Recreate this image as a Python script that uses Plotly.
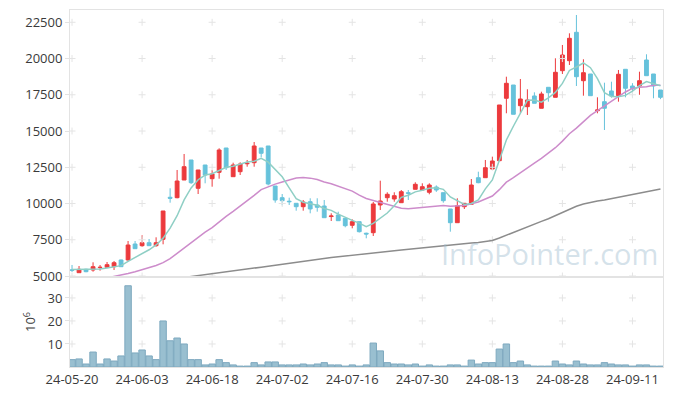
import plotly.graph_objects as go

dates = ["24-05-20","24-05-21","24-05-22","24-05-23","24-05-24","24-05-27","24-05-28","24-05-29","24-05-30","24-05-31",
         "24-06-03","24-06-04","24-06-05","24-06-07","24-06-10","24-06-11","24-06-12","24-06-13","24-06-14","24-06-17",
         "24-06-18","24-06-19","24-06-20","24-06-21","24-06-24","24-06-25","24-06-26","24-06-27","24-06-28","24-07-01",
         "24-07-02","24-07-03","24-07-04","24-07-05","24-07-08","24-07-09","24-07-10","24-07-11","24-07-12","24-07-15",
         "24-07-16","24-07-17","24-07-18","24-07-19","24-07-22","24-07-23","24-07-24","24-07-25","24-07-26","24-07-29",
         "24-07-30","24-07-31","24-08-01","24-08-02","24-08-05","24-08-06","24-08-07","24-08-08","24-08-09","24-08-12",
         "24-08-13","24-08-14","24-08-16","24-08-19","24-08-20","24-08-21","24-08-22","24-08-23","24-08-26","24-08-27",
         "24-08-28","24-08-29","24-08-30","24-09-02","24-09-03","24-09-04","24-09-05","24-09-06","24-09-09","24-09-10",
         "24-09-11","24-09-12","24-09-13","24-09-19","24-09-20"]

open_ = [5420,5228,5462,5414,5580,5600,5642,6104,6104,7207,
         7090,7297,7090,7531,10430,10401,11622,13002,11050,12657,
         11712,12153,13830,11850,12195,12740,12815,13830,13968,11208,
         10401,10160,10015,9780,10125,9898,9829,9100,9208,8980,
         8497,8746,7950,7987,9898,10401,10312,10056,10740,10980,
         10932,10774,11139,10746,9622,8677,9780,9946,11781,11781,
         12381,12953,17258,18175,16747,16679,17417,16568,18016,17326,
         19162,19852,21810,18472,18934,16400,17023,17762,17437,19258,
         18106,18106,19900,18934,17830]
high = [5760,5690,5500,5945,5759,5966,6035,6130,7414,7414,
        7807,7552,7669,9484,11050,12312,13416,13002,12312,12657,
        12312,13809,13830,12815,12843,13002,14243,13830,13968,11208,
        10656,10401,10015,10243,10360,10360,10243,9325,9435,8980,
        8911,8746,7987,10105,11574,10774,10774,10932,10932,11463,
        11394,11394,11250,10746,9622,10360,10015,11691,12195,13002,
        13232,16796,18748,18175,18589,17879,17670,17713,18016,20017,
        20935,21741,23004,19948,18934,17326,18334,18403,19210,19258,
        18300,19093,20293,18934,17830]
low = [5276,5228,5260,5297,5366,5600,5414,5642,6055,6883,
       7021,7090,7021,7186,10056,10360,11622,11350,10656,11394,
       11160,11712,12312,11850,11967,12540,12540,13188,11250,10056,
       9877,9900,9505,9505,9325,9435,9022,8794,8815,8359,
       8290,8000,7600,7759,9553,10125,10125,10056,10243,10980,
       10932,10636,10800,10056,8056,8677,9622,9946,11400,11781,
       12312,12953,16223,16154,16223,16106,16913,16568,17023,17326,
       18934,19555,18106,17437,17437,16223,15071,17300,17023,17326,
       17326,17500,18817,17258,17200]
close = [5400,5462,5297,5642,5600,5780,5917,5642,7138,6883,
         7297,7090,7297,9484,10360,11553,12540,11436,12312,11967,
         12036,13692,12471,12657,12726,12774,13968,13464,11347,10243,
         10194,10125,9780,10105,9625,9740,9022,9139,8815,8470,
         8746,8056,7897,9967,10174,10636,10539,10815,10705,11325,
         11160,11277,10932,10194,8677,9850,10015,11277,11436,12471,
         12933,16796,18292,16154,17210,17141,16913,17555,17644,19051,
         20245,21396,18748,19024,17437,16451,16568,17417,18914,17948,
         17923,18472,18817,18106,17326]
volume = [3.2,3.5,1.3,6.5,1.3,3.5,2.6,4.8,35.3,6.1,
          7.4,4.8,3.2,20.0,11.4,12.6,10.0,3.2,3.2,0.9,
          1.3,3.2,1.9,0.9,0.4,0.4,1.9,0.9,2.2,2.2,
          0.9,0.9,0.9,1.3,0.9,1.3,1.9,0.9,0.9,0.4,
          0.9,0.4,0.9,10.4,7.0,1.9,1.3,1.3,0.9,1.3,
          0.4,0.9,0.4,0.4,0.9,0.9,0.4,3.0,1.3,1.9,
          1.9,7.8,10.0,1.9,2.6,0.9,0.4,0.4,0.4,2.6,
          1.3,0.9,2.6,1.3,0.9,0.9,1.9,1.3,0.9,0.9,
          0.4,0.9,0.9,0.4,0.4]
ma5 = [5450,5460,5440,5470,5480,5556,5647,5716,6015,6272,
       6575,6810,7141,7610,8306,9157,10247,11075,11640,11962,
       12058,12289,12496,12565,12716,12864,12919,13118,12856,12359,
       11843,11075,10338,10089,9966,9875,9654,9526,9268,9037,
       8838,8645,8397,8627,8968,9346,9843,10426,10574,10804,
       10909,11056,11080,10978,10448,10186,9934,10003,10251,11010,
       11626,12983,14386,15329,16277,17119,17142,16995,17293,17661,
       18282,19178,19417,19693,19370,18611,17646,17379,17357,17460,
       17754,18135,18415,18253,18129]
ma20 = [None,None,None,None,None,4870,4960,5060,5170,5290,
        5420,5560,5720,5920,6200,6560,6930,7280,7650,8020,
        8337,8748,9107,9458,9814,10164,10566,10957,11168,11336,
        11481,11632,11756,11788,11751,11660,11484,11369,11195,11020,
        10855,10573,10345,10210,10083,9976,9804,9672,9640,9694,
        9742,9800,9857,9862,9814,9820,9869,9976,10107,10307,
        10517,10954,11474,11783,12135,12460,12779,13116,13463,13849,
        14303,14809,15200,15641,16079,16409,16737,17044,17418,17692,
        17941,18025,18051,18149,18155]
ma60 = [None]*16 + [4900,4960,5030,5090,
        5150,5210,5280,5340,5400,5470,5540,5610,5680,5750,
        5820,5890,5960,6030,6100,6160,6220,6270,6320,6380,
        6430,6480,6530,6590,6640,6690,6750,6800,6850,6910,
        6970,7020,7070,7110,7150,7190,7230,7270,7310,7360,
        7450,7620,7820,8000,8190,8380,8570,8770,8950,9160,
        9380,9620,9810,9970,10090,10170,10240,10340,10450,10550,
        10650,10730,10835,10925,11000]

price_ticks = [5000, 7500, 10000, 12500, 15000, 17500, 20000, 22500]
vol_ticks = [10, 20, 30]
tick_step = 10

x = list(range(len(dates)))
xtick_idx = x[::tick_step]
xtick_text = [dates[i] for i in xtick_idx]

RED = "#ec3a3d"
BLUE = "#66c2db"
GRID = "#e4e4e4"
AX = "#e3e3e3"
FONT = dict(family="Open Sans", size=13, color="#3a3a3a")

fig = go.Figure()

px_, py_ = [], []
for xi in xtick_idx:
    for yv in price_ticks:
        px_.append(xi); py_.append(yv)
fig.add_trace(go.Scatter(x=px_, y=py_, mode="markers", xaxis="x", yaxis="y",
                         marker=dict(symbol="cross-thin", size=5, line=dict(width=1, color=GRID)),
                         hoverinfo="skip"))
vx, vy = [], []
for xi in xtick_idx:
    for yv in vol_ticks:
        vx.append(xi); vy.append(yv)
fig.add_trace(go.Scatter(x=vx, y=vy, mode="markers", xaxis="x2", yaxis="y2",
                         marker=dict(symbol="cross-thin", size=5, line=dict(width=1, color=GRID)),
                         hoverinfo="skip"))

fig.add_trace(go.Scatter(x=x, y=ma60, mode="lines", line=dict(color="#8c8c8c", width=1.5),
                         xaxis="x", yaxis="y"))
fig.add_trace(go.Scatter(x=x, y=ma20, mode="lines", line=dict(color="#cd8ccb", width=1.5),
                         xaxis="x", yaxis="y"))
fig.add_trace(go.Scatter(x=x, y=ma5, mode="lines", line=dict(color="#8fcfc5", width=1.5),
                         xaxis="x", yaxis="y"))

fig.add_trace(go.Candlestick(x=x, open=open_, high=high, low=low, close=close,
                             increasing=dict(line=dict(color=RED, width=1), fillcolor=RED),
                             decreasing=dict(line=dict(color=BLUE, width=1), fillcolor=BLUE),
                             whiskerwidth=0, xaxis="x", yaxis="y"))

fig.add_trace(go.Bar(x=x, y=volume, xaxis="x2", yaxis="y2",
                     marker=dict(color="rgba(148,188,206,0.95)", line=dict(color="#7ea9bf", width=1))))

split = 0.2521
xr = [-0.29, 84.36]
fig.update_layout(
    width=673, height=396,
    margin=dict(l=70, r=10, t=10, b=29, autoexpand=False),
    paper_bgcolor="white", plot_bgcolor="white",
    showlegend=False, font=FONT,
    bargap=0.08, boxgap=0.22,
    xaxis=dict(domain=[0, 1], range=xr, anchor="y", showticklabels=False, showgrid=False,
               zeroline=False, showline=True, linecolor=AX, mirror=True, automargin=False,
               rangeslider=dict(visible=False), ticks=""),
    yaxis=dict(domain=[split, 1], range=[4931, 23348], tickvals=price_ticks, tickformat="d",
               showgrid=False, zeroline=False, showline=True, linecolor=AX, mirror=True,
               automargin=False, ticks="outside", ticklen=4, tickcolor=AX, tickfont=FONT),
    xaxis2=dict(domain=[0, 1], range=xr, anchor="y2", tickvals=xtick_idx, ticktext=xtick_text,
                showgrid=False, zeroline=False, showline=True, linecolor=AX, mirror=True,
                automargin=False, ticks="", tickfont=FONT),
    yaxis2=dict(domain=[0, split], range=[0, 39.1], tickvals=vol_ticks, anchor="x2", tickformat="d",
                showgrid=False, zeroline=False, showline=True, linecolor=AX, mirror=True,
                automargin=False, ticks="outside", ticklen=4, tickcolor=AX, tickfont=FONT,
                title=dict(text="10<sup>6</sup>", font=FONT, standoff=8)),
    annotations=[dict(text="InfoPointer.com", xref="paper", yref="paper", x=0.995, y=split + 0.005,
                      xanchor="right", yanchor="bottom", showarrow=False,
                      font=dict(family="Open Sans", size=29, color="rgba(160,190,208,0.45)"))],
)

fig.write_html("out.html", config={"displayModeBar": False},
               post_script="document.body.style.margin='0';document.body.style.overflow='hidden';")
